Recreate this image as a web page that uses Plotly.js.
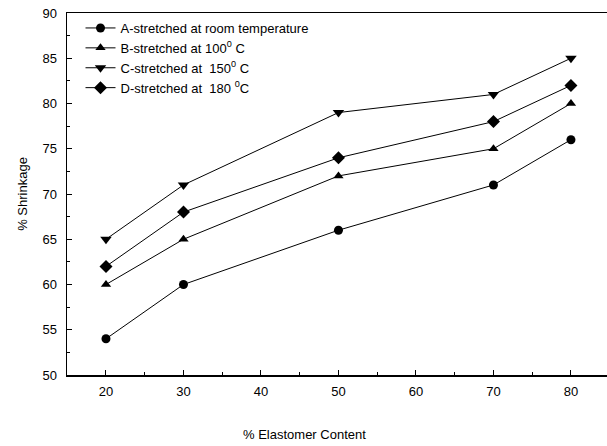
<!DOCTYPE html>
<html>
<head>
<meta charset="utf-8">
<script src="https://cdn.plot.ly/plotly-3.0.1.min.js"></script>
<style>html,body{margin:0;padding:0;background:#fff;}</style>
</head>
<body>
<div id="chart" style="width:607px;height:446px;"></div>
<script>
const elastomer = [20, 30, 50, 70, 80];
const shrinkA = [54, 60, 66, 71, 76];
const shrinkB = [60, 65, 72, 75, 80];
const shrinkC = [65, 71, 79, 81, 85];
const shrinkD = [62, 68, 74, 78, 82];
const seriesNames = [
  'A-stretched at room temperature',
  'B-stretched at 100<sup>0</sup> C',
  'C-stretched at  150<sup>0</sup> C',
  'D-stretched at  180 <sup>0</sup>C'
];
const seriesVals = [shrinkA, shrinkB, shrinkC, shrinkD];
const symbols = ['circle', 'triangle-up', 'triangle-down', 'diamond'];
const sizes = [9, 9, 10, 10];

const traces = seriesVals.map((v, i) => ({
  x: elastomer, y: v, name: seriesNames[i], type: 'scatter', mode: 'lines+markers',
  line: {color: '#000', width: 1},
  marker: {symbol: symbols[i], size: sizes[i], color: '#000'}
}));

const font = {family: 'Liberation Sans, Arial, sans-serif', color: '#000'};
const layout = {
  width: 607, height: 446,
  margin: {l: 67, r: 0, t: 13, b: 71},
  paper_bgcolor: '#fff', plot_bgcolor: '#fff',
  font: Object.assign({size: 13}, font),
  showlegend: true,
  legend: {x: 0.025, y: 1.0, xanchor: 'left', yanchor: 'top', bgcolor: 'rgba(0,0,0,0)',
           font: Object.assign({size: 13}, font), tracegroupgap: 0, itemwidth: 30},
  xaxis: {
    range: [14.97, 84.65], dtick: 10, tick0: 0, ticks: 'inside', ticklen: 5, tickwidth: 1,
    tickcolor: '#000', showline: true, linecolor: '#000', linewidth: 1.5, mirror: true,
    showgrid: false, zeroline: false, ticklabelstandoff: 4,
    minor: {dtick: 5, ticks: 'inside', ticklen: 3, tickcolor: '#000', showgrid: false},
    tickfont: Object.assign({size: 13}, font)
  },
  yaxis: {
    range: [50, 90], dtick: 5, ticks: 'inside', ticklen: 5, tickwidth: 1,
    tickcolor: '#000', showline: true, linecolor: '#000', linewidth: 1.5,
    showgrid: false, zeroline: false, ticklabelstandoff: 6,
    minor: {dtick: 2.5, ticks: 'inside', ticklen: 3, tickcolor: '#000', showgrid: false},
    tickfont: Object.assign({size: 13}, font),
    title: {text: '% Shrinkage', font: Object.assign({size: 13}, font), standoff: 12}
  },
  annotations: [{
    text: '% Elastomer Content', xref: 'paper', yref: 'paper', x: 0.44, y: -0.165,
    xanchor: 'center', yanchor: 'middle', showarrow: false,
    font: Object.assign({size: 13}, font)
  }]
};
Plotly.newPlot('chart', traces, layout, {displayModeBar: false, staticPlot: true});
</script>
</body>
</html>
